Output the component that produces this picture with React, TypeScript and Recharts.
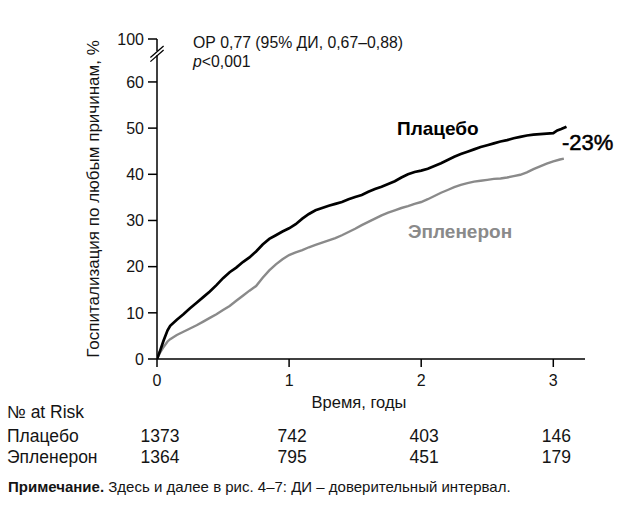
import React from 'react';
import { LineChart, Line, XAxis, YAxis, ReferenceLine } from 'recharts';

const timesPlacebo = [0, 0.02, 0.05, 0.08, 0.1, 0.15, 0.2, 0.25, 0.3, 0.35, 0.4, 0.45, 0.5, 0.55, 0.6, 0.65, 0.7, 0.75, 0.8, 0.85, 0.9, 0.95, 1.0, 1.05, 1.1, 1.15, 1.2, 1.25, 1.3, 1.35, 1.4, 1.45, 1.5, 1.55, 1.6, 1.65, 1.7, 1.75, 1.8, 1.85, 1.9, 1.95, 2.0, 2.05, 2.1, 2.15, 2.2, 2.25, 2.3, 2.35, 2.4, 2.45, 2.5, 2.55, 2.6, 2.65, 2.7, 2.75, 2.8, 2.85, 2.9, 2.95, 3.0, 3.03, 3.06, 3.1];
const placebo = [0, 1.5, 4, 6.2, 7.2, 8.5, 9.7, 11, 12.2, 13.4, 14.6, 16, 17.5, 18.8, 19.8, 21, 22, 23.3, 24.8, 26, 26.8, 27.6, 28.3, 29.2, 30.4, 31.4, 32.2, 32.7, 33.2, 33.6, 34.0, 34.6, 35.1, 35.5, 36.2, 36.8, 37.3, 37.9, 38.5, 39.3, 40.0, 40.5, 40.8, 41.2, 41.8, 42.4, 43.1, 43.8, 44.4, 44.9, 45.4, 45.9, 46.3, 46.7, 47.1, 47.4, 47.8, 48.1, 48.4, 48.6, 48.7, 48.8, 48.9, 49.5, 49.8, 50.3];

const timesEplerenone = [0, 0.02, 0.05, 0.08, 0.1, 0.15, 0.2, 0.25, 0.3, 0.35, 0.4, 0.45, 0.5, 0.55, 0.6, 0.65, 0.7, 0.75, 0.8, 0.85, 0.9, 0.95, 1.0, 1.05, 1.1, 1.15, 1.2, 1.25, 1.3, 1.35, 1.4, 1.45, 1.5, 1.55, 1.6, 1.65, 1.7, 1.75, 1.8, 1.85, 1.9, 1.95, 2.0, 2.05, 2.1, 2.15, 2.2, 2.25, 2.3, 2.35, 2.4, 2.45, 2.5, 2.55, 2.6, 2.65, 2.7, 2.75, 2.8, 2.85, 2.9, 2.95, 3.0, 3.05, 3.08];
const eplerenone = [0, 1.2, 2.6, 3.8, 4.3, 5.2, 5.9, 6.6, 7.3, 8.1, 8.9, 9.7, 10.6, 11.5, 12.6, 13.7, 14.8, 15.8, 17.6, 19.2, 20.5, 21.6, 22.5, 23.1, 23.6, 24.2, 24.7, 25.2, 25.7, 26.2, 26.8, 27.5, 28.2, 29.0, 29.7, 30.4, 31.1, 31.7, 32.2, 32.7, 33.1, 33.6, 34.0, 34.6, 35.3, 36.0, 36.6, 37.2, 37.7, 38.1, 38.4, 38.6, 38.8, 39.0, 39.1, 39.3, 39.6, 39.9, 40.4, 41.1, 41.7, 42.3, 42.8, 43.2, 43.4];

const xTicks = [0, 1, 2, 3];
const yTicks = [0, 10, 20, 30, 40, 50, 60, 69.3];
const yTickLabels = ['0', '10', '20', '30', '40', '50', '60', '100'];
const atRiskTimes = [0, 1, 2, 3];
const atRiskPlacebo = [1373, 742, 403, 146];
const atRiskEplerenone = [1364, 795, 451, 179];

const placeboData = timesPlacebo.map((t, i) => ({ t, v: placebo[i] }));
const eplerenoneData = timesEplerenone.map((t, i) => ({ t, v: eplerenone[i] }));

const FONT = '"Liberation Sans", Arial, Helvetica, sans-serif';
const X_MAX = 3.24;
const Y_MAX = 69.3;
const MARGIN = { top: 39, right: 40, bottom: 11, left: 97 };
const Y_AXIS_W = 60;
const CHART_W = 625;
const CHART_H = 400;
const plotLeft = MARGIN.left + Y_AXIS_W;
const plotWidth = CHART_W - plotLeft - MARGIN.right;
const xPx = (t: number) => plotLeft + (t / X_MAX) * plotWidth;

const GRAY = '#8a8a8a';
const TXT = '#141414';

export default function App() {
  return (
    <div style={{ position: 'absolute', left: 0, top: 0, width: 625, height: 517, background: '#fff', fontFamily: FONT }}>
      <div style={{ position: 'absolute', left: 0, top: 0 }}>
        <LineChart width={CHART_W} height={CHART_H} margin={MARGIN}>
          <XAxis
            dataKey="t"
            type="number"
            domain={[0, X_MAX]}
            ticks={xTicks}
            allowDataOverflow
            axisLine={{ stroke: '#000', strokeWidth: 1.5 }}
            tickLine={{ stroke: '#000', strokeWidth: 1.5 }}
            tickSize={8}
            tickMargin={8}
            tick={{ fontSize: 16, fill: TXT, fontFamily: FONT }}
          />
          <YAxis
            type="number"
            domain={[0, Y_MAX]}
            ticks={yTicks}
            allowDataOverflow
            width={Y_AXIS_W}
            axisLine={false}
            tickLine={{ stroke: '#000', strokeWidth: 1.5 }}
            tickSize={9}
            tickMargin={4}
            interval={0}
            tickFormatter={(v: number) => yTickLabels[yTicks.indexOf(v)] ?? String(v)}
            tick={{ fontSize: 16, fill: TXT, fontFamily: FONT }}
          />
          <ReferenceLine segment={[{ x: 0, y: 0 }, { x: 0, y: 65.8 }]} stroke="#000" strokeWidth={1.5} ifOverflow="visible" />
          <ReferenceLine segment={[{ x: 0, y: 66.7 }, { x: 0, y: Y_MAX }]} stroke="#000" strokeWidth={1.5} ifOverflow="visible" />
          <ReferenceLine segment={[{ x: -0.05, y: 64.4 }, { x: 0.05, y: 66.9 }]} stroke="#000" strokeWidth={1.3} ifOverflow="visible" />
          <ReferenceLine segment={[{ x: -0.05, y: 65.3 }, { x: 0.05, y: 67.8 }]} stroke="#000" strokeWidth={1.3} ifOverflow="visible" />
          <Line data={eplerenoneData} dataKey="v" type="linear" stroke={GRAY} strokeWidth={2.4} dot={false} activeDot={false} isAnimationActive={false} />
          <Line data={placeboData} dataKey="v" type="linear" stroke="#000" strokeWidth={2.7} dot={false} activeDot={false} isAnimationActive={false} />
        </LineChart>
      </div>
      <svg width={625} height={517} style={{ position: 'absolute', left: 0, top: 0, fontFamily: FONT }}>
        <text x={93} y={199} transform="rotate(-90 93 199)" textAnchor="middle" dominantBaseline="central" fontSize={17} fill={TXT}>
          Госпитализация по любым причинам, %
        </text>
        <text x={193} y={48} fontSize={15.8} fill={TXT}>ОР 0,77 (95% ДИ, 0,67–0,88)</text>
        <text x={193} y={67} fontSize={15.8} fill={TXT}><tspan fontStyle="italic">p</tspan>&lt;0,001</text>
        <text x={397} y={135} fontSize={19} fontWeight="bold" fill="#000">Плацебо</text>
        <text x={562} y={150} fontSize={22} fill="#000" stroke="#000" strokeWidth={0.5}>-23%</text>
        <text x={408} y={238} fontSize={19} fontWeight="bold" fill={GRAY}>Эпленерон</text>
        <text x={359} y={408} textAnchor="middle" fontSize={16.5} fill={TXT}>Время, годы</text>
        <text x={7} y={418} fontSize={17.5} fill={TXT}>№ at Risk</text>
        <text x={7} y={442} fontSize={17.5} fill={TXT}>Плацебо</text>
        <text x={7} y={463} fontSize={17.5} fill={TXT}>Эпленерон</text>
        {atRiskTimes.map((t, i) => (
          <text key={'p' + i} x={xPx(t) + 3} y={442} textAnchor="middle" fontSize={17.5} fill={TXT}>{atRiskPlacebo[i]}</text>
        ))}
        {atRiskTimes.map((t, i) => (
          <text key={'e' + i} x={xPx(t) + 3} y={463} textAnchor="middle" fontSize={17.5} fill={TXT}>{atRiskEplerenone[i]}</text>
        ))}
        <text x={8} y={492} fontSize={15} fill={TXT}>
          <tspan fontWeight="bold">Примечание.</tspan> Здесь и далее в рис. 4–7: ДИ – доверительный интервал.
        </text>
      </svg>
    </div>
  );
}
